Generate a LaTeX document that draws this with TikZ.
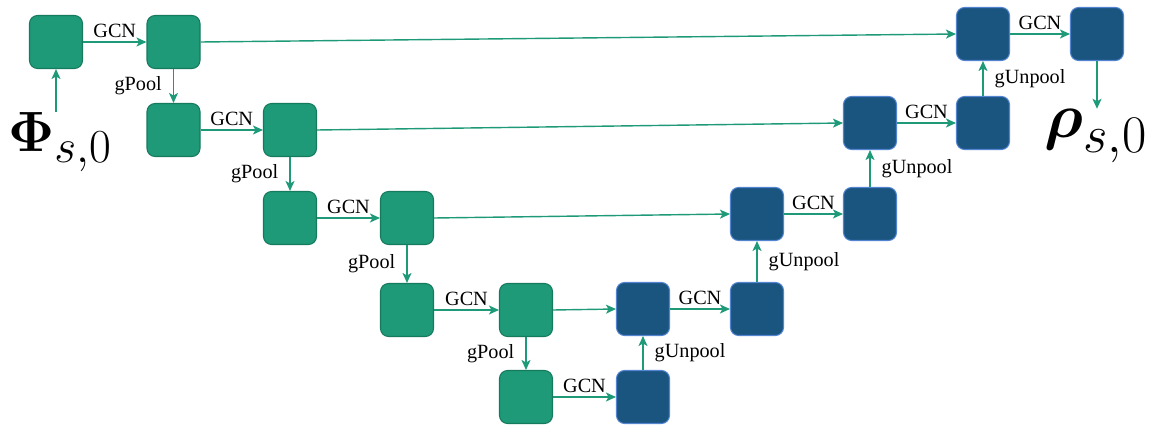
\documentclass[tikz,border=0pt]{standalone}
\usepackage{fontspec}
\setmainfont{Liberation Serif}
\usepackage{amsmath}
\usepackage{amssymb}
\usepackage{tikz}
\usetikzlibrary{arrows.meta}
\definecolor{poolgreen}{RGB}{30,154,120}
\definecolor{pooledge}{RGB}{22,122,93}
\definecolor{unpoolblue}{RGB}{26,85,128}
\definecolor{unpooledge}{RGB}{82,132,208}
\tikzstyle{encoder} = [rectangle, rounded corners=0.16cm, minimum width=1.06cm, minimum height=1.06cm, inner sep=0pt, draw=pooledge, fill=poolgreen, line width=0.6pt]
\tikzstyle{decoder} = [encoder, draw=unpooledge, fill=unpoolblue]
\tikzstyle{arrow} = [draw=poolgreen, line width=0.8pt, -{Stealth[length=2mm,width=1.8mm,inset=0.5mm]}]
\tikzstyle{lbl} = [font=\fontsize{11.5}{13}\selectfont, text=black, inner sep=2pt]

\begin{document}
\begin{tikzpicture}
    \useasboundingbox (0,0) rectangle (23.08,8.48);

    % encoder (gPool side)
    \node (g00) [encoder] at (1.12,7.64) {};
    \node (g01) [encoder] at (3.47,7.64) {};
    \node (g10) [encoder] at (3.47,5.88) {};
    \node (g11) [encoder] at (5.80,5.88) {};
    \node (g20) [encoder] at (5.80,4.12) {};
    \node (g21) [encoder] at (8.14,4.12) {};
    \node (g30) [encoder] at (8.14,2.28) {};
    \node (g31) [encoder] at (10.52,2.28) {};
    \node (g40) [encoder] at (10.52,0.54) {};

    % decoder (gUnpool side)
    \node (b40) [decoder] at (12.86,0.54) {};
    \node (b30) [decoder] at (12.86,2.30) {};
    \node (b31) [decoder] at (15.14,2.30) {};
    \node (b20) [decoder] at (15.14,4.20) {};
    \node (b21) [decoder] at (17.40,4.20) {};
    \node (b10) [decoder] at (17.40,6.02) {};
    \node (b11) [decoder] at (19.66,6.02) {};
    \node (b00) [decoder] at (19.66,7.80) {};
    \node (b01) [decoder] at (21.94,7.80) {};

    \node (phi) [inner sep=0pt, scale=1.3] at (1.2,5.64) {\Huge $\boldsymbol{\Phi}_{s,0}$};
    \node (rho) [inner sep=0pt, scale=1.45] at (21.92,5.76) {\Huge $\boldsymbol{\rho}_{s,0}$};

    \draw[arrow] (phi.north -| g00.south) -- (g00.south);
    \draw[arrow] (b01.south) -- (b01.south |- rho.north);

    % GCN
    \draw[arrow] (g00.east) -- node[lbl, above] {GCN} (g01.west);
    \draw[arrow] (g10.east) -- node[lbl, above] {GCN} (g11.west);
    \draw[arrow] (g20.east) -- node[lbl, above] {GCN} (g21.west);
    \draw[arrow] (g30.east) -- node[lbl, above] {GCN} (g31.west);
    \draw[arrow] (g40.east) -- node[lbl, above] {GCN} (b40.west);
    \draw[arrow] (b30.east) -- node[lbl, above] {GCN} (b31.west);
    \draw[arrow] (b20.east) -- node[lbl, above] {GCN} (b21.west);
    \draw[arrow] (b10.east) -- node[lbl, above] {GCN} (b11.west);
    \draw[arrow] (b00.east) -- node[lbl, above] {GCN} (b01.west);

    % gPool
    \draw[arrow] (g01.south) -- node[lbl, anchor=east, xshift=-0.15cm] {gPool} (g10.north);
    \draw[arrow] (g11.south) -- node[lbl, anchor=east, xshift=-0.15cm] {gPool} (g20.north);
    \draw[arrow] (g21.south) -- node[lbl, anchor=east, xshift=-0.15cm] {gPool} (g30.north);
    \draw[arrow] (g31.south) -- node[lbl, anchor=east, xshift=-0.15cm] {gPool} (g40.north);

    % gUnpool
    \draw[arrow] (b40.north) -- node[lbl, anchor=west, xshift=0.15cm] {gUnpool} (b30.south);
    \draw[arrow] (b31.north) -- node[lbl, anchor=west, xshift=0.15cm] {gUnpool} (b20.south);
    \draw[arrow] (b21.north) -- node[lbl, anchor=west, xshift=0.15cm] {gUnpool} (b10.south);
    \draw[arrow] (b11.north) -- node[lbl, anchor=west, xshift=0.15cm] {gUnpool} (b00.south);

    % skip connections
    \draw[arrow] (g01.east) -- (b00.west);
    \draw[arrow] (g11.east) -- (b10.west);
    \draw[arrow] (g21.east) -- (b20.west);
    \draw[arrow] (g31.east) -- (b30.west);
\end{tikzpicture}
\end{document}
